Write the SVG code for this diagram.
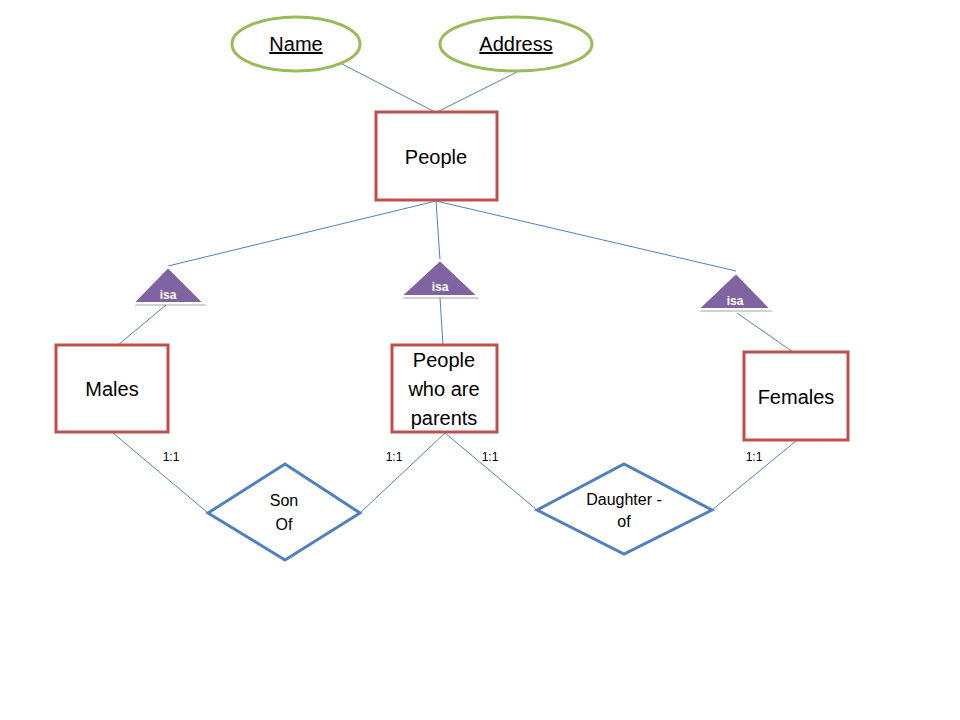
<svg xmlns="http://www.w3.org/2000/svg" width="960" height="720" viewBox="0 0 960 720">
<style>
.attr{fill:#fff;stroke:#9bbb59;stroke-width:3}
.ent{fill:#fff;stroke:#c0504d;stroke-width:3}
.rel{fill:#fff;stroke:#4f81bd;stroke-width:3}
.isa{fill:#8064a2;stroke:#fff;stroke-width:2}
.shadow{fill:#000;opacity:0.18}
.conn line{stroke:#4f81bd;stroke-width:1}
text{font-family:"Liberation Sans",Arial,sans-serif;fill:#000;text-anchor:middle}
.t20{font-size:20px}
.t16{font-size:16px}
.t12{font-size:12px}
.isat{font-size:12px;font-weight:bold;fill:#fff}
</style>
<rect width="960" height="720" fill="#fff"/>
<g class="conn" id="connectors">
<line x1="342" y1="64" x2="435" y2="112"/>
<line x1="517" y1="72" x2="437" y2="112"/>
<line x1="436" y1="201" x2="168" y2="266"/>
<line x1="436" y1="201" x2="440" y2="260"/>
<line x1="436" y1="201" x2="736" y2="271"/>
<line x1="166" y1="305" x2="118" y2="345"/>
<line x1="440" y1="298" x2="443" y2="345"/>
<line x1="737" y1="313" x2="793" y2="352"/>
<line x1="113" y1="433" x2="208" y2="513"/>
<line x1="360" y1="513" x2="445" y2="433"/>
<line x1="445" y1="433" x2="537" y2="510"/>
<line x1="712" y1="510" x2="796" y2="441"/>
</g>
<g id="name">
<ellipse class="attr" cx="296" cy="44" rx="64" ry="27"/>
<text class="t20" x="296" y="51" text-decoration="underline">Name</text>
</g>
<g id="address">
<ellipse class="attr" cx="516" cy="44" rx="76" ry="27"/>
<text class="t20" x="516" y="51" text-decoration="underline">Address</text>
</g>
<g id="people">
<rect class="ent" x="376" y="112" width="121" height="88"/>
<text class="t20" x="436" y="164">People</text>
</g>
<g id="isa-left">
<polygon class="shadow" points="169,269 134,306 207,306"/>
<polygon class="isa" points="168,267 133,303 204,303"/>
<text class="isat" x="168" y="299">isa</text>
</g>
<g id="isa-mid">
<polygon class="shadow" points="441,262 402,299 480,299"/>
<polygon class="isa" points="440,260 401,296 478,296"/>
<text class="isat" x="440" y="291">isa</text>
</g>
<g id="isa-right">
<polygon class="shadow" points="737,275 699,312 773,312"/>
<polygon class="isa" points="736,273 698,309 771,309"/>
<text class="isat" x="735" y="305">isa</text>
</g>
<g id="males">
<rect class="ent" x="56" y="345" width="112" height="87"/>
<text class="t20" x="112" y="396">Males</text>
</g>
<g id="parents">
<rect class="ent" x="392" y="345" width="105" height="87"/>
<text class="t20" x="444" y="367">People</text>
<text class="t20" x="444" y="396">who are</text>
<text class="t20" x="444" y="425">parents</text>
</g>
<g id="females">
<rect class="ent" x="744" y="352" width="104" height="88"/>
<text class="t20" x="796" y="404">Females</text>
</g>
<g id="son-of">
<polygon class="rel" points="208,513 285,464 360,513 285,560"/>
<text class="t16" x="284" y="506">Son</text>
<text class="t16" x="284" y="530">Of</text>
</g>
<g id="daughter-of">
<polygon class="rel" points="537,510 624,464 712,510 624,554"/>
<text class="t16" x="624" y="505">Daughter -</text>
<text class="t16" x="624" y="527">of</text>
</g>
<g id="labels">
<text class="t12" x="171" y="461">1:1</text>
<text class="t12" x="394" y="461">1:1</text>
<text class="t12" x="490" y="461">1:1</text>
<text class="t12" x="754" y="461">1:1</text>
</g>
</svg>
